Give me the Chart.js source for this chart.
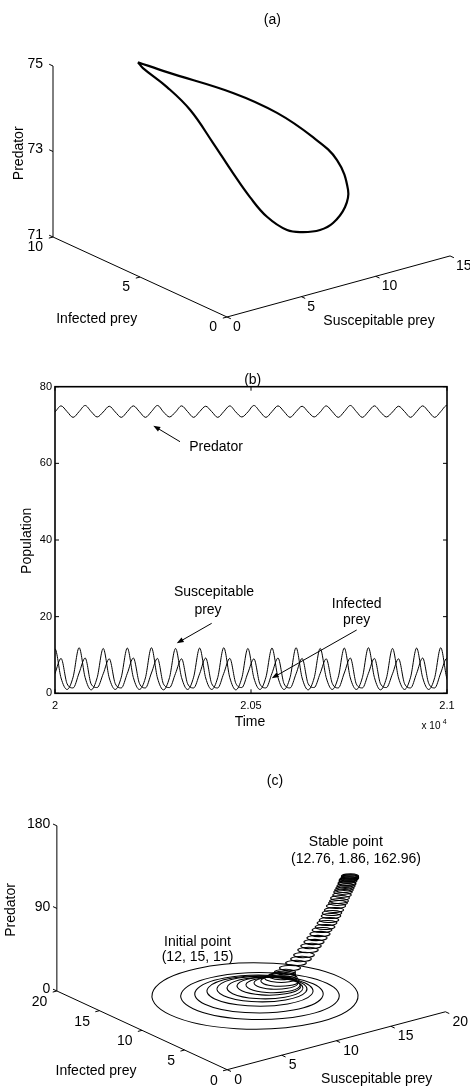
<!DOCTYPE html>
<html><head><meta charset="utf-8">
<script src="https://cdn.jsdelivr.net/npm/chart.js@4.4.1/dist/chart.umd.min.js"></script>
<style>
html,body{margin:0;padding:0;background:#fff;}
#wrap{position:relative;width:470px;height:1088px;overflow:hidden;background:#fff;}
canvas{position:absolute;left:0;}
</style></head><body>
<div id="wrap">
<canvas id="ca" width="470" height="335" style="top:0px"></canvas>
<canvas id="cb" width="470" height="400" style="top:335px"></canvas>
<canvas id="cc" width="470" height="353" style="top:735px"></canvas>
</div>
<script>
// ================= DATA =================
// ---- Panel (a): limit cycle (Susceptible S, Infected I, Predator P)
const aTicksS = [0, 5, 10, 15];
const aTicksI = [0, 5, 10];
const aTicksP = [71, 73, 75];
const aLoopS = [1.97, 2.99, 6.02, 7.81, 9.29, 10.09, 10.13, 9.46, 8.30, 7.31, 6.17, 5.21, 4.21, 3.65, 3.33, 3.15, 3.13, 2.87, 2.07];
const aLoopI = [6.8, 6.0, 4.8, 3.8, 3.0, 2.3, 1.7, 1.3, 1.0, 0.9, 0.9, 1.0, 1.3, 1.8, 2.5, 3.5, 4.8, 5.9, 6.6];
const aLoopP = [75.50, 75.32, 74.77, 74.32, 73.76, 73.28, 72.69, 72.43, 72.22, 72.17, 72.23, 72.35, 72.70, 73.12, 73.58, 74.12, 74.65, 75.00, 75.39];

// ---- Panel (b): time series
const bTicksX = [20000, 20500, 21000];
const bTicksY = [0, 20, 40, 60, 80];
const bTime = [19984.6, 20000.0, 20015.4, 20030.8, 20046.1, 20061.5, 20076.9, 20092.3, 20107.6, 20123.0,
  20138.4, 20153.8, 20169.1, 20184.5, 20199.9, 20215.3, 20230.6, 20246.0, 20261.4, 20276.8,
  20292.1, 20307.5, 20322.9, 20338.3, 20353.6, 20369.0, 20384.4, 20399.8, 20415.1, 20430.5,
  20445.9, 20461.3, 20476.6, 20492.0, 20507.4, 20522.8, 20538.1, 20553.5, 20568.9, 20584.3,
  20599.6, 20615.0, 20630.4, 20645.8, 20661.1, 20676.5, 20691.9, 20707.3, 20722.6, 20738.0,
  20753.4, 20768.8, 20784.1, 20799.5, 20814.9, 20830.3, 20845.6, 20861.0, 20876.4, 20891.8,
  20907.1, 20922.5, 20937.9, 20953.3, 20968.6, 20984.0, 20999.4, 21014.8];
const bPredator = [72.0,
  73.4, 75.0, 73.5, 72.0, 73.5, 75.1, 73.5, 72.1, 73.4, 74.9, 73.4, 72.0, 73.5, 75.0, 73.5, 72.0,
  73.5, 75.1, 73.4, 72.1, 73.4, 75.0, 73.5, 72.0, 73.5, 74.9, 73.5, 72.0, 73.5, 75.0, 73.4, 72.1,
  73.4, 75.1, 73.5, 72.0, 73.5, 75.0, 73.5, 72.0, 73.5, 74.9, 73.4, 72.1, 73.4, 75.0, 73.5, 72.0,
  73.5, 75.1, 73.5, 72.0, 73.5, 75.0, 73.4, 72.1, 73.4, 74.9, 73.5, 72.0, 73.5, 75.0, 73.5, 72.0,
  73.5, 75.1, 73.4];
const bSusceptible = [4.1,
  11.6, 4.0, 1.0, 4.2, 11.9, 4.1, 0.9, 4.1, 11.7, 4.0, 1.0, 4.2, 11.8, 4.1, 1.0, 4.0,
  11.9, 4.0, 0.9, 4.1, 11.7, 4.1, 1.0, 4.2, 11.8, 4.0, 1.0, 4.1, 11.9, 4.1, 0.9, 4.0,
  11.7, 4.0, 1.0, 4.2, 11.8, 4.1, 1.0, 4.1, 11.9, 4.0, 0.9, 4.0, 11.7, 4.1, 1.0, 4.2,
  11.8, 4.0, 1.0, 4.1, 11.9, 4.1, 0.9, 4.0, 11.7, 4.0, 1.0, 4.2, 11.8, 4.1, 1.0, 4.1,
  11.9, 4.0, 0.9];
const bInfected = [1.4,
  5.2, 9.1, 2.5, 1.4, 5.3, 9.2, 2.4, 1.5, 5.1, 9.0, 2.5, 1.4, 5.2, 9.2, 2.6, 1.4,
  5.3, 9.1, 2.4, 1.5, 5.2, 9.0, 2.5, 1.4, 5.1, 9.2, 2.5, 1.4, 5.2, 9.1, 2.6, 1.5,
  5.3, 9.0, 2.4, 1.4, 5.2, 9.2, 2.5, 1.4, 5.1, 9.1, 2.5, 1.5, 5.2, 9.0, 2.6, 1.4,
  5.3, 9.2, 2.4, 1.4, 5.2, 9.1, 2.5, 1.5, 5.1, 9.0, 2.5, 1.4, 5.2, 9.2, 2.6, 1.4,
  5.3, 9.1, 2.4];

// ---- Panel (c): damped oscillation from initial point to stable point
const cTicksS = [0, 5, 10, 15, 20];
const cTicksI = [0, 5, 10, 15, 20];
const cTicksP = [0, 90, 180];
// successive oscillation loops: centre (S, I, P), amplitude of S and I, phase lag of I (deg)
const cLoopS = [9.11, 9.13, 9.10, 9.35, 9.41, 9.54, 9.83, 10.13, 10.37, 10.77, 10.92, 11.08, 11.23,
  11.39, 11.67, 12.00, 12.18, 12.30, 12.42, 12.53, 12.60, 12.66, 12.72, 12.78, 12.84, 12.85, 12.85,
  12.86, 12.86, 12.87, 12.88, 12.88, 12.86, 12.86, 12.84, 12.82, 12.81, 12.79, 12.78, 12.78, 12.77,
  12.75, 12.75, 12.75, 12.74, 12.74, 12.74, 12.74, 12.73];
const cLoopI = [8.40, 7.80, 7.98, 8.07, 7.92, 7.74, 7.66, 7.58, 7.54, 7.60, 7.66, 7.72, 7.76,
  7.80, 7.52, 7.25, 6.97, 6.70, 6.44, 6.18, 5.93, 5.68, 5.44, 5.20, 4.97, 4.75, 4.53,
  4.32, 4.12, 3.92, 3.73, 3.54, 3.36, 3.19, 3.02, 2.86, 2.72, 2.58, 2.46, 2.35, 2.26,
  2.17, 2.10, 2.04, 1.99, 1.96, 1.92, 1.89, 1.86];
const cLoopP = [15, 18, 20, 22, 24, 26, 27, 28, 29, 30.6, 32.1, 33.7, 35.3,
  36.83, 42.01, 47.01, 52.40, 57.96, 63.36, 68.68, 73.97, 79.21, 84.28, 89.26, 94.08, 98.91, 103.66,
  108.24, 112.70, 117.02, 121.20, 125.30, 129.31, 133.12, 136.88, 140.38, 143.55, 146.55, 149.22, 151.59, 153.71,
  155.63, 157.19, 158.52, 159.61, 160.37, 161.18, 161.84, 162.53];
const cLoopAmpS = [7.14, 5.36, 4.34, 3.55, 3.01, 2.54, 2.14, 1.81, 1.47, 1.27, 1.07, 0.89, 0.75,
  0.68, 0.68, 0.67, 0.67, 0.67, 0.66, 0.66, 0.65, 0.65, 0.65, 0.64, 0.64, 0.64, 0.63,
  0.63, 0.63, 0.62, 0.62, 0.61, 0.61, 0.61, 0.60, 0.60, 0.60, 0.59, 0.59, 0.58, 0.58,
  0.58, 0.57, 0.57, 0.57, 0.56, 0.56, 0.55, 0.55];
const cLoopAmpI = [6.77, 4.96, 4.02, 3.25, 2.76, 2.33, 1.96, 1.66, 1.35, 1.16, 0.97, 0.80, 0.67,
  0.60, 0.60, 0.59, 0.59, 0.59, 0.59, 0.59, 0.58, 0.58, 0.58, 0.57, 0.57, 0.57, 0.56,
  0.56, 0.56, 0.55, 0.55, 0.54, 0.54, 0.54, 0.53, 0.53, 0.53, 0.52, 0.52, 0.51, 0.51,
  0.51, 0.51, 0.51, 0.51, 0.50, 0.50, 0.49, 0.49];
const cLoopLag = [95, 99.5, 99.5, 101.5, 101.5, 101.5, 101.5, 101.5, 101.5, 103, 104.5, 106, 107.5,
  108.7, 108.7, 108.7, 108.7, 108.7, 108.7, 108.7, 108.7, 108.7, 108.7, 108.7, 108.7, 108.7, 108.7,
  108.7, 108.7, 108.7, 108.7, 108.7, 108.7, 108.7, 108.7, 108.7, 108.7, 108.7, 108.7, 108.7, 108.7,
  108.7, 108.7, 108.7, 108.7, 108.7, 108.7, 108.7, 108.7];

// ================= RENDERING =================
const FONT = "'Liberation Sans', Arial, Helvetica, sans-serif";

// 3-D view geometry (oblique projection onto the canvas plane)
const viewA = { ox: 227, oy: 317, p0: 71, vS: [14.87, -4.07], vI: [-17.4, -8.0], vP: [0, -42.75] };
const viewC = { ox: 227, oy: 339.3, p0: 0, vS: [11.15, -2.98], vI: [-8.7, -4.05], vP: [0, -0.9444] };

function proj(v, S, I, P) {
  return { x: v.ox + S * v.vS[0] + I * v.vI[0] + (P - v.p0) * v.vP[0],
           y: v.oy + S * v.vS[1] + I * v.vI[1] + (P - v.p0) * v.vP[1] };
}

function drawTextItems(chart, items) {
  const ctx = chart.ctx, xs = chart.scales.x, ys = chart.scales.y;
  items.forEach(it => {
    let px, py;
    if (it.at) { px = xs.getPixelForValue(it.at.x); py = ys.getPixelForValue(it.at.y); }
    else { px = it.px; py = it.py; }
    px += it.dx || 0; py += it.dy || 0;
    ctx.save();
    ctx.font = (it.size || 14) + 'px ' + FONT;
    ctx.fillStyle = '#000';
    ctx.textAlign = it.align || 'center';
    ctx.textBaseline = 'middle';
    ctx.translate(px, py);
    if (it.rot) ctx.rotate(it.rot);
    ctx.fillText(it.text, 0, 0);
    ctx.restore();
  });
}

const L = (pts, w) => ({ data: pts, showLine: true, borderColor: '#000', borderWidth: w || 1,
  pointRadius: 0, pointHoverRadius: 0, tension: 0, fill: false, clip: false });

function build3D(cfg) {
  const v = cfg.view, b = cfg.box, ds = [], texts = [];
  ds.push(L([proj(v, 0, b.iMax, b.pMin), proj(v, 0, b.iMax, b.pMax)]));
  ds.push(L([proj(v, 0, b.iMax, b.pMin), proj(v, 0, 0, b.pMin)]));
  ds.push(L([proj(v, 0, 0, b.pMin), proj(v, b.sMax, 0, b.pMin)]));
  cfg.ticksP.forEach(p => {
    ds.push(L([proj(v, 0, b.iMax, p), proj(v, 0, b.iMax + cfg.tickI, p)]));
    texts.push({ text: String(p), at: proj(v, 0, b.iMax, p), dx: cfg.off.p[0], dy: cfg.off.p[1], align: 'right' });
  });
  cfg.ticksI.forEach(i => {
    ds.push(L([proj(v, 0, i, b.pMin), proj(v, -cfg.tickS, i, b.pMin)]));
    texts.push({ text: String(i), at: proj(v, 0, i, b.pMin), dx: cfg.off.i[0], dy: cfg.off.i[1], align: 'right' });
  });
  cfg.ticksS.forEach(s => {
    ds.push(L([proj(v, s, 0, b.pMin), proj(v, s, -cfg.tickI, b.pMin)]));
    texts.push({ text: String(s), at: proj(v, s, 0, b.pMin), dx: cfg.off.s[0], dy: cfg.off.s[1], align: 'left' });
  });
  cfg.extra.forEach(d => ds.push(d));
  const allTexts = texts.concat(cfg.texts);
  const cv = document.getElementById(cfg.id);
  return new Chart(cv, {
    type: 'scatter',
    data: { datasets: ds },
    options: {
      responsive: false, animation: false, devicePixelRatio: 1, events: [],
      layout: { padding: 0 },
      plugins: { legend: { display: false }, tooltip: { enabled: false }, title: { display: false } },
      scales: {
        x: { type: 'linear', display: false, min: 0, max: cv.width },
        y: { type: 'linear', display: false, min: 0, max: cv.height, reverse: true }
      }
    },
    plugins: [{
      id: 'texts3d',
      beforeDatasetsDraw(chart) { chart.ctx.imageSmoothingEnabled = false; },
      afterDatasetsDraw(chart) { chart.ctx.imageSmoothingEnabled = true; drawTextItems(chart, allTexts); }
    }]
  });
}

// ---------- Panel (a)
const aLoopPts = aLoopS.map((s, k) => proj(viewA, s, aLoopI[k], aLoopP[k]));
aLoopPts.push(aLoopPts[0]);
build3D({
  id: 'ca', view: viewA, box: { sMax: 15, iMax: 10, pMin: 71, pMax: 75 },
  ticksS: aTicksS, ticksI: aTicksI, ticksP: aTicksP, tickS: 0.28, tickI: 0.22,
  off: { p: [-10, -2], i: [-10, 10], s: [6, 10] },
  extra: [Object.assign(L(aLoopPts, 2.2), { tension: 0.4 })],
  texts: [
    { text: '(a)', px: 272.3, py: 20 },
    { text: 'Predator', px: 19, py: 153.3, rot: -Math.PI / 2 },
    { text: 'Infected prey', px: 96.7, py: 319 },
    { text: 'Suscepitable prey', px: 379, py: 321 }
  ]
});

// ---------- Panel (c)
// one oscillation loop: S = cS + ampS cos(th), I = cI + ampI cos(th - lag)
function loopGlyph(v, aS, aI, lagDeg) {
  const lag = lagDeg * Math.PI / 180;
  const ux = v.vS[0] * aS + v.vI[0] * aI * Math.cos(lag), uy = v.vS[1] * aS + v.vI[1] * aI * Math.cos(lag);
  const wx = v.vI[0] * aI * Math.sin(lag), wy = v.vI[1] * aI * Math.sin(lag);
  const hw = Math.sqrt(ux * ux + wx * wx), hh = Math.sqrt(uy * uy + wy * wy);
  const W = 2 * Math.ceil(hw + 2), H = 2 * Math.ceil(hh + 2);
  const c = document.createElement('canvas'); c.width = W; c.height = H;
  const g = c.getContext('2d');
  g.translate(W / 2, H / 2);
  g.save(); g.transform(ux, uy, wx, wy, 0, 0); g.beginPath(); g.arc(0, 0, 1, 0, Math.PI * 2); g.restore();
  g.lineWidth = 1.05; g.strokeStyle = '#000'; g.stroke();
  return c;
}
const cGlyphs = cLoopS.map((s, k) => loopGlyph(viewC, cLoopAmpS[k], cLoopAmpI[k], cLoopLag[k]));
const cLoopPts = cLoopS.map((s, k) => proj(viewC, s, cLoopI[k], cLoopP[k]));
build3D({
  id: 'cc', view: viewC, box: { sMax: 20, iMax: 20, pMin: 0, pMax: 180 },
  ticksS: cTicksS, ticksI: cTicksI, ticksP: cTicksP, tickS: 0.38, tickI: 0.45,
  off: { p: [-6.5, -1.5], i: [-9.5, 11], s: [7, 10] },
  extra: [{ data: cLoopPts, showLine: false, pointRadius: 4, pointHoverRadius: 4, clip: false,
            pointStyle: (ctx) => cGlyphs[ctx.dataIndex] }],
  texts: [
    { text: '(c)', px: 275, py: 45.7 },
    { text: 'Stable point', px: 345.8, py: 107 },
    { text: '(12.76, 1.86, 162.96)', px: 356, py: 124 },
    { text: 'Initial point', px: 197.5, py: 206.7 },
    { text: '(12, 15, 15)', px: 197.5, py: 222.5 },
    { text: 'Predator', px: 11, py: 175, rot: -Math.PI / 2 },
    { text: 'Infected prey', px: 96, py: 335.8 },
    { text: 'Suscepitable prey', px: 376.7, py: 344 }
  ]
});

// ---------- Panel (b)
const bNotes = [
  { text: 'Predator', at: { x: 20410.7, y: 64.27 } },
  { text: 'Suscepitable', at: { x: 20405.6, y: 26.43 } },
  { text: 'prey', at: { x: 20390.3, y: 21.74 } },
  { text: 'Infected', at: { x: 20769.6, y: 23.30 } },
  { text: 'prey', at: { x: 20769.6, y: 19.13 } },
  { text: '(b)', px: 252.7, py: 45 },
  { text: 'Time', px: 250, py: 386.7 },
  { text: 'Population', px: 27.5, py: 205.8, rot: -Math.PI / 2 },
  { text: 'x 10', px: 431, py: 391, size: 10 },
  { text: '4', px: 444.7, py: 386.8, size: 7 }
];
const bArrows = [
  { from: { x: 20318.9, y: 65.65 }, to: { x: 20250.8, y: 69.82 } },
  { from: { x: 20399.7, y: 18.26 }, to: { x: 20310.5, y: 13.05 } },
  { from: { x: 20769.6, y: 16.52 }, to: { x: 20552.8, y: 3.91 } }
];
const bLine = { borderColor: '#000', borderWidth: 1, pointRadius: 0, pointHoverRadius: 0,
  cubicInterpolationMode: 'monotone', tension: 0.4, fill: false };
new Chart(document.getElementById('cb'), {
  type: 'line',
  data: { datasets: [
    Object.assign({ label: 'Predator', data: bTime.map((t, k) => ({ x: t, y: bPredator[k] })) }, bLine),
    Object.assign({ label: 'Suscepitable prey', data: bTime.map((t, k) => ({ x: t, y: bSusceptible[k] })) }, bLine),
    Object.assign({ label: 'Infected prey', data: bTime.map((t, k) => ({ x: t, y: bInfected[k] })) }, bLine)
  ]},
  options: {
    responsive: false, animation: false, devicePixelRatio: 1, events: [],
    layout: { padding: { top: 51.7, right: 23, left: 0, bottom: 0 } },
    plugins: { legend: { display: false }, tooltip: { enabled: false } },
    scales: {
      x: { type: 'linear', min: 20000, max: 21000,
        afterFit(s) { s.height = 41.7; },
        afterBuildTicks(s) { s.ticks = bTicksX.map(v => ({ value: v })); },
        grid: { display: false, drawTicks: false }, border: { display: false },
        ticks: { color: '#000', font: { family: FONT, size: 11 }, padding: 6, maxRotation: 0, autoSkip: false,
                 callback: v => String(v / 10000) } },
      y: { type: 'linear', min: 0, max: 80,
        afterFit(s) { s.width = 55; },
        afterBuildTicks(s) { s.ticks = bTicksY.map(v => ({ value: v })); },
        grid: { display: false, drawTicks: false }, border: { display: false },
        ticks: { color: '#000', font: { family: FONT, size: 11 }, padding: 3 } }
    }
  },
  plugins: [{
    id: 'bDecor',
    afterDatasetsDraw(chart) {
      const ctx = chart.ctx, a = chart.chartArea, xs = chart.scales.x, ys = chart.scales.y;
      ctx.save();
      ctx.strokeStyle = '#000'; ctx.fillStyle = '#000'; ctx.lineWidth = 1;
      const ln = (x1, y1, x2, y2) => { ctx.beginPath(); ctx.moveTo(x1, y1); ctx.lineTo(x2, y2); ctx.stroke(); };
      bTicksX.forEach(t => { const px = xs.getPixelForValue(t); ln(px, a.bottom, px, a.bottom - 4); ln(px, a.top, px, a.top + 4); });
      bTicksY.forEach(v => { const py = ys.getPixelForValue(v); ln(a.left, py, a.left + 4, py); ln(a.right, py, a.right - 4, py); });
      ctx.lineWidth = 1.6;
      ctx.strokeRect(a.left, a.top, a.right - a.left, a.bottom - a.top);
      ctx.lineWidth = 1;
      bArrows.forEach(ar => {
        const x1 = xs.getPixelForValue(ar.from.x), y1 = ys.getPixelForValue(ar.from.y);
        const x2 = xs.getPixelForValue(ar.to.x), y2 = ys.getPixelForValue(ar.to.y);
        const ang = Math.atan2(y2 - y1, x2 - x1), hl = 7, hw = 2.6;
        ln(x1, y1, x2 - Math.cos(ang) * hl * 0.6, y2 - Math.sin(ang) * hl * 0.6);
        ctx.beginPath();
        ctx.moveTo(x2, y2);
        ctx.lineTo(x2 - Math.cos(ang) * hl - Math.sin(ang) * hw, y2 - Math.sin(ang) * hl + Math.cos(ang) * hw);
        ctx.lineTo(x2 - Math.cos(ang) * hl + Math.sin(ang) * hw, y2 - Math.sin(ang) * hl - Math.cos(ang) * hw);
        ctx.closePath(); ctx.fill();
      });
      ctx.restore();
      drawTextItems(chart, bNotes);
    }
  }]
});
</script>
</body></html>
